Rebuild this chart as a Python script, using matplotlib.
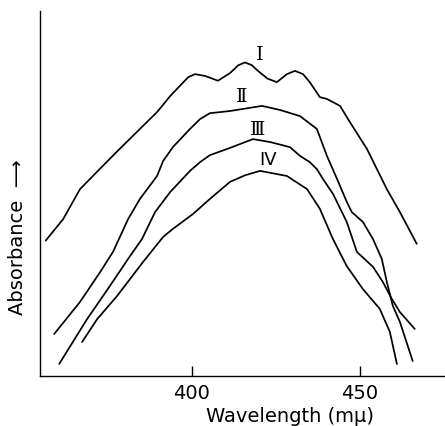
import matplotlib
matplotlib.use("Agg")
import matplotlib.pyplot as plt

# absorbance spectra (arbitrary absorbance units)
wl_1 = [356.6, 361.8, 366.8, 371.8, 377.7, 385.5, 389.7, 393.6, 396.5, 399.0,
        401.0, 404.0, 407.8, 411.4, 413.8, 415.8, 417.8, 419.7, 422.5, 425.3,
        428.3, 430.7, 433.1, 435.1, 438.1, 440.2, 444.1, 447.0, 452.1, 458.0,
        461.9, 466.9]
abs_1 = [0.371, 0.430, 0.512, 0.559, 0.614, 0.685, 0.723, 0.767, 0.795, 0.819,
         0.827, 0.822, 0.809, 0.830, 0.851, 0.859, 0.852, 0.836, 0.815, 0.805,
         0.827, 0.836, 0.827, 0.805, 0.764, 0.759, 0.740, 0.696, 0.622, 0.512,
         0.449, 0.362]

wl_2 = [359.1, 366.8, 372.8, 376.6, 381.1, 384.6, 389.7, 391.5, 394.4, 399.5,
        402.5, 405.4, 411.4, 420.9, 426.2, 432.2, 437.2, 440.2, 443.2, 446.1,
        447.6, 450.9, 453.9, 456.5, 458.0, 459.8, 461.9, 465.7]
abs_2 = [0.115, 0.203, 0.285, 0.340, 0.430, 0.485, 0.548, 0.589, 0.627, 0.677,
         0.704, 0.720, 0.726, 0.740, 0.729, 0.712, 0.677, 0.603, 0.540, 0.477,
         0.449, 0.422, 0.375, 0.321, 0.258, 0.192, 0.148, 0.041]

wl_3 = [360.6, 368.9, 375.7, 381.7, 385.2, 389.1, 393.6, 399.5, 402.5, 405.4,
        411.4, 418.2, 423.3, 429.2, 432.2, 435.1, 437.2, 439.0, 442.0, 446.1,
        449.1, 453.9, 456.8, 459.5, 461.9, 466.3]
abs_3 = [0.033, 0.156, 0.247, 0.329, 0.375, 0.449, 0.504, 0.562, 0.586, 0.605,
         0.625, 0.649, 0.641, 0.627, 0.603, 0.586, 0.567, 0.540, 0.499, 0.422,
         0.340, 0.299, 0.258, 0.211, 0.175, 0.129]

wl_4 = [367.4, 371.9, 377.8, 385.5, 391.5, 394.4, 400.4, 405.4, 411.4, 415.9,
        420.3, 428.3, 434.3, 438.1, 442.0, 446.1, 450.9, 455.9, 458.9, 461.0]
abs_4 = [0.093, 0.156, 0.219, 0.312, 0.381, 0.403, 0.444, 0.485, 0.532, 0.550,
         0.562, 0.548, 0.512, 0.458, 0.375, 0.301, 0.238, 0.184, 0.121, 0.033]

curve_names = ["I", "\u2161", "\u2162", "IV"]
label_pos = [(420.3, 0.882), (414.9, 0.767), (419.7, 0.677), (422.7, 0.595)]

fig = plt.figure(figsize=(4.45, 4.27), dpi=100)
ax = fig.add_axes([40/445, 50/427, 405/445, 365/427])

for wl, ab in [(wl_1, abs_1), (wl_2, abs_2), (wl_3, abs_3), (wl_4, abs_4)]:
    ax.plot(wl, ab, color="black", lw=1.25, solid_capstyle="round",
            solid_joinstyle="round")

for i, name in enumerate(curve_names):
    if name == "IV":
        fam = "DejaVu Sans"
        fs = 13
    else:
        fam = "DejaVu Serif"
        fs = 14
    ax.text(label_pos[i][0], label_pos[i][1], name, ha="center", va="center",
            fontsize=fs, family=fam)

ax.set_xlim(354.9, 475.3)
ax.set_ylim(0, 1.0)
ax.spines["top"].set_visible(False)
ax.spines["right"].set_visible(False)
ax.spines["left"].set_linewidth(1.0)
ax.spines["bottom"].set_linewidth(1.0)
ax.set_xticks([400, 450])
ax.set_yticks([])
ax.tick_params(axis="x", direction="in", length=7.2, width=1.0, labelsize=14, pad=5)

fig.text(290/445, 1 - 417/427, "Wavelength (m\u03bc)", ha="center", va="center", fontsize=14)
fig.text(18/445, 1 - 237/427, "Absorbance  \u27f6", ha="center", va="center",
         rotation=90, fontsize=14)

fig.savefig("out.png", dpi=100)
